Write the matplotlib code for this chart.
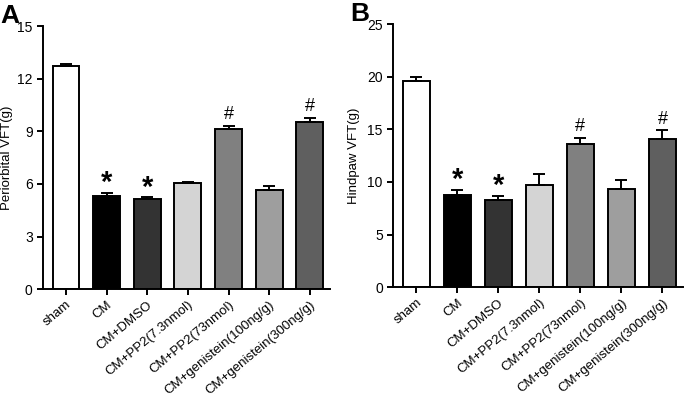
import numpy as np
import matplotlib.pyplot as plt

plt.rcParams['font.family'] = ['Liberation Sans', 'DejaVu Sans']

# Grupos y valores
grupos = ["sham", "CM", "CM+DMSO", "CM+PP2(7.3nmol)", "CM+PP2(73nmol)",
          "CM+genistein(100ng/g)", "CM+genistein(300ng/g)"]
colores = ["#ffffff", "#000000", "#333333", "#d4d4d4", "#808080", "#9e9e9e", "#5f5f5f"]

vft_periorbital = [12.74, 5.33, 5.13, 6.05, 9.13, 5.65, 9.54]
err_periorbital = [0.07, 0.15, 0.10, 0.07, 0.17, 0.22, 0.23]

vft_hindpaw = [19.56, 8.77, 8.29, 9.72, 13.61, 9.34, 14.08]
err_hindpaw = [0.41, 0.50, 0.41, 1.04, 0.60, 0.85, 0.83]

# Marcas de significancia
marcas = ["", "*", "*", "", "#", "", "#"]


def dibujar_panel(ax, valores, errores, ylim, yticks, ylabel, letra, escala, pad):
    x = np.arange(len(grupos))
    ax.bar(x, valores, width=0.66, color=colores, edgecolor="black", linewidth=1.4,
           yerr=[np.zeros(len(errores)), errores], capsize=4,
           error_kw=dict(elinewidth=1.4, capthick=1.4, ecolor="black"), zorder=2)
    for xi, v, e, m in zip(x, valores, errores, marcas):
        if m == "*":
            ax.text(xi, v + e - escala * 0.25, m, ha="center", va="bottom",
                    fontsize=21, fontweight="bold")
        elif m == "#":
            ax.text(xi, v + e + escala * 0.15, m, ha="center", va="bottom", fontsize=13)
    ax.set_ylim(*ylim)
    ax.set_yticks(yticks)
    ax.set_xlim(-0.56, 6.5)
    ax.set_xticks(x)
    ax.set_xticklabels(grupos, rotation=40, ha="right", rotation_mode="anchor", fontsize=9.5)
    ax.set_ylabel(ylabel, fontsize=9.5, labelpad=pad)
    ax.tick_params(axis="both", direction="out", length=4, width=1.4, labelsize=10)
    ax.tick_params(axis="x", labelsize=9.5, pad=3)
    for lado in ["top", "right"]:
        ax.spines[lado].set_visible(False)
    for lado in ["left", "bottom"]:
        ax.spines[lado].set_linewidth(1.4)
    ax.text(-0.148, 1.085, letra, transform=ax.transAxes, fontsize=19,
            fontweight="bold", va="top", ha="left")


fig = plt.figure(figsize=(6.85, 4.01), dpi=100)
ax1 = fig.add_axes([0.063, 0.279, 0.419, 0.656])
ax2 = fig.add_axes([0.574, 0.284, 0.423, 0.656])

dibujar_panel(ax1, vft_periorbital, err_periorbital, (0, 15), [0, 3, 6, 9, 12, 15],
              "Periorbital VFT(g)", "A", 1.0, 3)
dibujar_panel(ax2, vft_hindpaw, err_hindpaw, (0, 25), [0, 5, 10, 15, 20, 25],
              "Hindpaw VFT(g)", "B", 1.6, 5)

fig.savefig("out.png", dpi=100)
